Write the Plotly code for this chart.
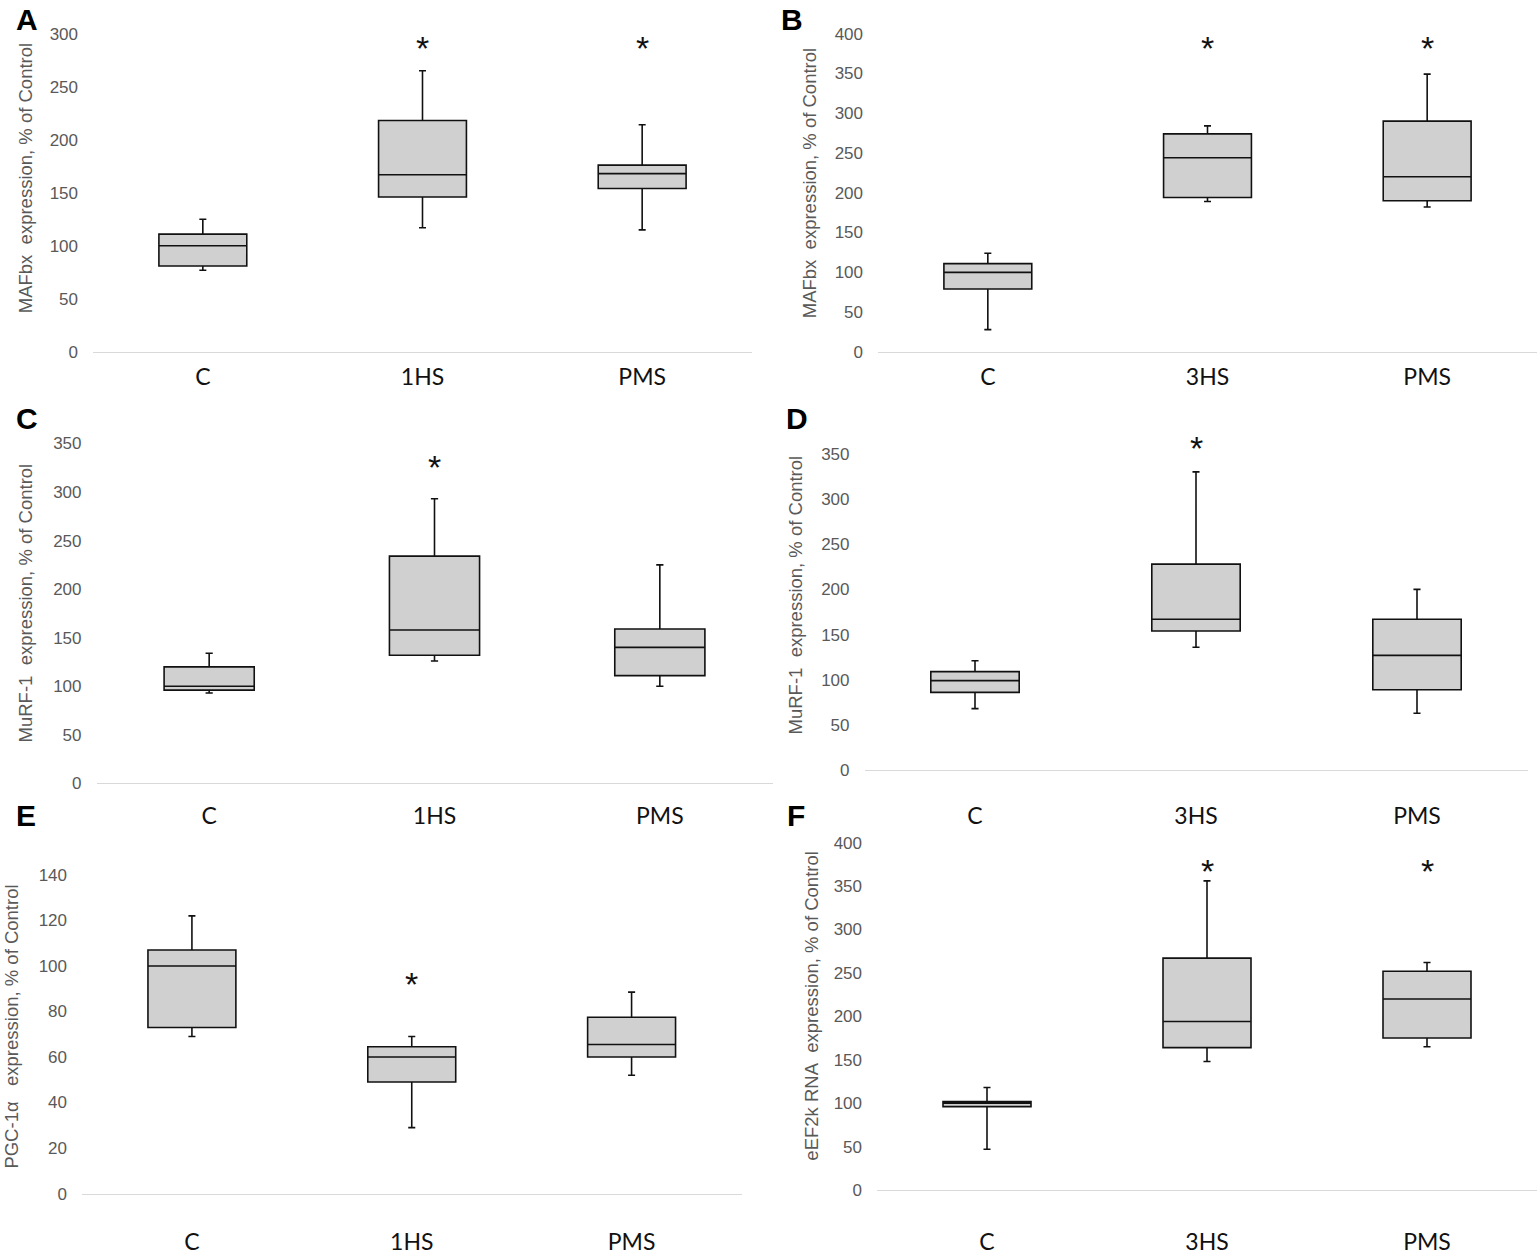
import plotly.graph_objects as go
from plotly.subplots import make_subplots

W, H = 1537, 1257

cats_1hs = ["C", "1HS", "PMS"]
cats_3hs = ["C", "3HS", "PMS"]

# A - MAFbx, 1HS
mafbx_1hs_low = [77, 117, 115]
mafbx_1hs_q1 = [81, 146, 154]
mafbx_1hs_med = [100, 167, 168]
mafbx_1hs_q3 = [111, 218, 176]
mafbx_1hs_high = [125, 265, 214]
mafbx_1hs_star = [None, 290, 290]

# B - MAFbx, 3HS
mafbx_3hs_low = [28, 189, 182]
mafbx_3hs_q1 = [79, 194, 190]
mafbx_3hs_med = [100, 244, 220]
mafbx_3hs_q3 = [111, 274, 290]
mafbx_3hs_high = [124, 284, 349]
mafbx_3hs_star = [None, 387, 387]

# C - MuRF-1, 1HS
murf_1hs_low = [93, 126, 100]
murf_1hs_q1 = [96, 132, 111]
murf_1hs_med = [100, 158, 140]
murf_1hs_q3 = [120, 234, 159]
murf_1hs_high = [134, 293, 225]
murf_1hs_star = [None, 330, None]

# D - MuRF-1, 3HS
murf_3hs_low = [68, 136, 63]
murf_3hs_q1 = [86, 154, 89]
murf_3hs_med = [99, 167, 127]
murf_3hs_q3 = [109, 228, 167]
murf_3hs_high = [121, 330, 200]
murf_3hs_star = [None, 361, None]

# E - PGC-1a, 1HS
pgc_1hs_low = [69, 29, 52]
pgc_1hs_q1 = [73, 49, 60]
pgc_1hs_med = [100, 60, 65.5]
pgc_1hs_q3 = [107, 64.5, 77.5]
pgc_1hs_high = [122, 69, 88.5]
pgc_1hs_star = [None, 94, None]

# F - eEF2k, 3HS
eef_3hs_low = [47, 148, 165]
eef_3hs_q1 = [96, 164, 175]
eef_3hs_med = [100, 194, 220]
eef_3hs_q3 = [102, 267, 252]
eef_3hs_high = [118, 356, 262]
eef_3hs_star = [None, 372, 372]

NB = "\u00a0"
panels = [
    dict(letter="A", cats=cats_1hs, low=mafbx_1hs_low, q1=mafbx_1hs_q1, med=mafbx_1hs_med,
         q3=mafbx_1hs_q3, high=mafbx_1hs_high, star=mafbx_1hs_star,
         title="MAFbx" + NB * 2 + "expression, % of Control", ymax=300, dtick=50, yr=300),
    dict(letter="B", cats=cats_3hs, low=mafbx_3hs_low, q1=mafbx_3hs_q1, med=mafbx_3hs_med,
         q3=mafbx_3hs_q3, high=mafbx_3hs_high, star=mafbx_3hs_star,
         title="MAFbx" + NB * 2 + "expression, % of Control", ymax=400, dtick=50, yr=400),
    dict(letter="C", cats=cats_1hs, low=murf_1hs_low, q1=murf_1hs_q1, med=murf_1hs_med,
         q3=murf_1hs_q3, high=murf_1hs_high, star=murf_1hs_star,
         title="MuRF-1" + NB * 2 + "expression, % of Control", ymax=350, dtick=50, yr=350),
    dict(letter="D", cats=cats_3hs, low=murf_3hs_low, q1=murf_3hs_q1, med=murf_3hs_med,
         q3=murf_3hs_q3, high=murf_3hs_high, star=murf_3hs_star,
         title="MuRF-1" + NB * 2 + "expression, % of Control", ymax=350, dtick=50, yr=370),
    dict(letter="E", cats=cats_1hs, low=pgc_1hs_low, q1=pgc_1hs_q1, med=pgc_1hs_med,
         q3=pgc_1hs_q3, high=pgc_1hs_high, star=pgc_1hs_star,
         title="PGC-1α" + NB * 3 + "expression, % of Control", ymax=140, dtick=20, yr=140),
    dict(letter="F", cats=cats_3hs, low=eef_3hs_low, q1=eef_3hs_q1, med=eef_3hs_med,
         q3=eef_3hs_q3, high=eef_3hs_high, star=eef_3hs_star,
         title="eEF2k RNA" + NB * 2 + "expression, % of Control", ymax=400, dtick=50, yr=400),
]

# pixel layout of each panel: plot box (x0, x1, ytop, ybottom), x label gap,
# letter centre, y-title centre
frames = [
    dict(box=(93, 752, 32, 351), xgap=4, letter=(27, 18), ytitle=(25, 177)),
    dict(box=(878, 1537, 32, 351), xgap=4, letter=(792, 18), ytitle=(809, 182)),
    dict(box=(96.5, 772.5, 442.7, 783.3), xgap=12, letter=(27, 418), ytitle=(25, 603)),
    dict(box=(864.5, 1527.5, 435, 770), xgap=25, letter=(797, 418), ytitle=(795, 595)),
    dict(box=(82, 741.5, 875, 1194.3), xgap=28, letter=(26, 815), ytitle=(12, 1027)),
    dict(box=(877, 1537, 842.7, 1190.7), xgap=31, letter=(796, 815), ytitle=(812, 1006)),
]


def vy(y):
    # the page comes out a little squeezed and pushed down; pre-correct pixel rows
    return (y - 7.4) / 0.9868


fig = make_subplots(rows=3, cols=2)
annotations = []

for i, (p, fr) in enumerate(zip(panels, frames)):
    row, col = i // 2 + 1, i % 2 + 1
    fig.add_trace(go.Box(
        x=p["cats"], q1=p["q1"], median=p["med"], q3=p["q3"],
        lowerfence=p["low"], upperfence=p["high"],
        fillcolor="#d0d0d0", line=dict(color="#111111", width=1.6),
        whiskerwidth=0.08, width=0.4, boxpoints=False,
        hoverinfo="skip", showlegend=False,
    ), row=row, col=col)

    x0, x1, yt, yb = fr["box"]
    fig.update_xaxes(domain=[x0 / W, min(x1 / W, 1)], type="category", range=[-0.5, 2.5],
                     showline=True, linecolor="#d9d9d9", linewidth=1, showgrid=False,
                     zeroline=False, ticks="", ticklabelstandoff=fr["xgap"],
                     tickfont=dict(family="Lato, Carlito, Arial", size=23, color="#111111"),
                     row=row, col=col)
    fig.update_yaxes(domain=[1 - vy(yb) / H, 1 - vy(yt) / H], range=[0, p["yr"]],
                     tickvals=list(range(0, p["ymax"] + 1, p["dtick"])),
                     showline=False, showgrid=False, zeroline=False, ticks="",
                     ticklabelstandoff=14,
                     tickfont=dict(family="Liberation Sans, Arial", size=17, color="#595959"),
                     row=row, col=col)

    xref = "x" if i == 0 else "x%d" % (i + 1)
    yref = "y" if i == 0 else "y%d" % (i + 1)
    for c, s in zip(p["cats"], p["star"]):
        if s is None:
            continue
        annotations.append(dict(x=c, y=s, xref=xref, yref=yref, text="*", showarrow=False,
                                font=dict(family="Liberation Sans, Arial", size=34, color="#111111"),
                                xanchor="center", yanchor="middle", yshift=-4))

    lx, ly = fr["letter"]
    annotations.append(dict(x=lx / W, y=1 - vy(ly) / H, xref="paper", yref="paper",
                            text="<b>%s</b>" % p["letter"], showarrow=False,
                            font=dict(family="Liberation Sans, Arial", size=30, color="#000000"),
                            xanchor="center", yanchor="middle"))
    tx, ty = fr["ytitle"]
    annotations.append(dict(x=tx / W, y=1 - vy(ty) / H, xref="paper", yref="paper",
                            text=p["title"], textangle=-90, showarrow=False,
                            font=dict(family="Liberation Sans, Arial", size=18.5, color="#595959"),
                            xanchor="center", yanchor="middle"))

fig.update_layout(
    width=W, height=H,
    margin=dict(l=0, r=0, t=0, b=0),
    paper_bgcolor="white", plot_bgcolor="white",
    annotations=annotations,
)

# pin the figure to the window origin (no page margin, no scrolling)
pin = ("document.body.style.margin='0';"
       "var g=document.getElementsByClassName('plotly-graph-div')[0];"
       "g.style.position='fixed';g.style.left='0';g.style.top='0';")
fig.write_html("out.html", config={"displayModeBar": False}, post_script=pin)
